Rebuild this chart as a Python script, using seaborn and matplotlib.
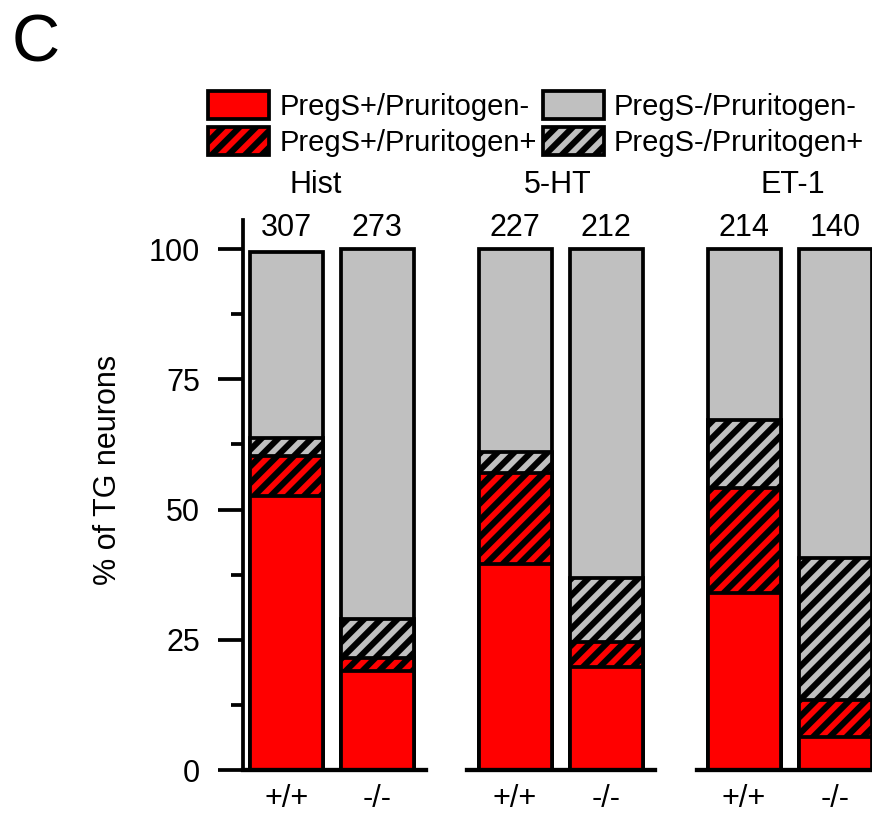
import numpy as np
import pandas as pd
import seaborn as sns
import matplotlib.pyplot as plt


genotypes = ["+/+", "-/-"]
pruritogens = ["Hist", "5-HT", "ET-1"]
cell_counts = [[307, 273], [227, 212], [214, 140]]

# % of TG neurons per class, one [+/+, -/-] pair per pruritogen
# stacking order bottom -> top: red, red hatched, gray hatched, gray
pregs_pos_prur_neg = [[52.6, 19.0], [39.5, 19.7], [34.0, 6.3]]
pregs_pos_prur_pos = [[7.6, 2.6], [17.6, 4.9], [20.1, 7.2]]
pregs_neg_prur_pos = [[3.6, 7.3], [4.0, 12.2], [13.1, 27.3]]
pregs_neg_prur_neg = [[35.6, 71.1], [38.9, 63.2], [32.8, 59.2]]

class_names = ["PregS+/Pruritogen-", "PregS+/Pruritogen+",
               "PregS-/Pruritogen+", "PregS-/Pruritogen-"]
class_colors = ["#ff0000", "#ff0000", "#c0c0c0", "#c0c0c0"]
class_hatches = [None, "//", "//", None]


sns.set_style("ticks")
plt.rcParams["font.family"] = ["Liberation Sans", "DejaVu Sans"]
plt.rcParams["text.color"] = "black"
plt.rcParams["xtick.color"] = "black"
plt.rcParams["ytick.color"] = "black"
plt.rcParams["axes.edgecolor"] = "black"
plt.rcParams["hatch.linewidth"] = 4.4
plt.rcParams["hatch.color"] = "black"

fig = plt.figure(figsize=(8.72, 8.18), dpi=100)
W, H = 872, 818

# axes boxes in pixels: left edge, width, xlim
panels = [(243, 183, (-0.473, 1.533)),
          (467, 188, (-0.527, 1.533)),
          (697, 187, (-0.516, 1.533))]
title_x = [0.32, 0.47, 0.53]
y_bottom, y_top = 770, 220
ymax = 105.6
fs = 22

lw = 2.7
axes = []
for g, (left, width, xlim) in enumerate(panels):
    ax = fig.add_axes([left / W, 1 - y_bottom / H, width / W, (y_bottom - y_top) / H])
    axes.append(ax)

    df = pd.DataFrame({
        "genotype": genotypes,
        class_names[0]: pregs_pos_prur_neg[g],
        class_names[1]: pregs_pos_prur_pos[g],
        class_names[2]: pregs_neg_prur_pos[g],
        class_names[3]: pregs_neg_prur_neg[g],
    })
    stacked = df[class_names].cumsum(axis=1)
    stacked["genotype"] = df["genotype"]

    # draw tallest cumulative layer first, smaller ones on top
    for k in [3, 2, 1, 0]:
        sns.barplot(data=stacked, x="genotype", y=class_names[k], order=genotypes,
                    color=class_colors[k], hatch=class_hatches[k], saturation=1,
                    edgecolor="black", linewidth=lw, width=0.8, errorbar=None,
                    label=class_names[k], ax=ax)

    for i, n in enumerate(cell_counts[g]):
        ax.text(i, 102.5, str(n), ha="center", va="baseline", fontsize=fs)
    ax.text(title_x[g], 110.7, pruritogens[g], ha="center", va="baseline", fontsize=fs)

    ax.set_xlim(*xlim)
    ax.set_ylim(0, ymax)
    ax.set_xlabel("")
    ax.set_ylabel("")
    ax.spines["top"].set_visible(False)
    ax.spines["right"].set_visible(False)
    ax.spines["bottom"].set_linewidth(lw + 0.4)
    ax.spines["left"].set_linewidth(lw)
    ax.tick_params(axis="x", length=0, pad=10, labelsize=fs)
    if g == 0:
        ax.set_yticks([0, 25, 50, 75, 100])
        ax.set_yticks([12.5, 37.5, 62.5, 87.5], minor=True)
        ax.tick_params(axis="y", which="major", length=18, width=lw, pad=13, labelsize=fs)
        ax.tick_params(axis="y", which="minor", length=8.6, width=lw)
    else:
        ax.spines["left"].set_visible(False)
        ax.set_yticks([])
    if ax.get_legend() is not None:
        ax.get_legend().remove()

# legend: column-wise fill -> red, red hatched | gray, gray hatched
h, l = axes[0].get_legend_handles_labels()
lookup = dict(zip(l, h))
order = [class_names[0], class_names[1], class_names[3], class_names[2]]
fig.legend([lookup[o] for o in order], order, ncol=2, frameon=False,
           loc="upper left", bbox_to_anchor=(208 / W, 1 - 91 / H),
           fontsize=21, handlelength=2.1, handleheight=1.1,
           handletextpad=0.35, columnspacing=0.2, labelspacing=0.22,
           borderpad=0, borderaxespad=0)

fig.text(108 / W, 1 - 470 / H, "% of TG neurons", rotation=90,
         ha="center", va="center", fontsize=fs)
fig.text(12 / W, 1 - 62 / H, "C", fontsize=48, va="baseline")

fig.savefig("out.png", dpi=100)
